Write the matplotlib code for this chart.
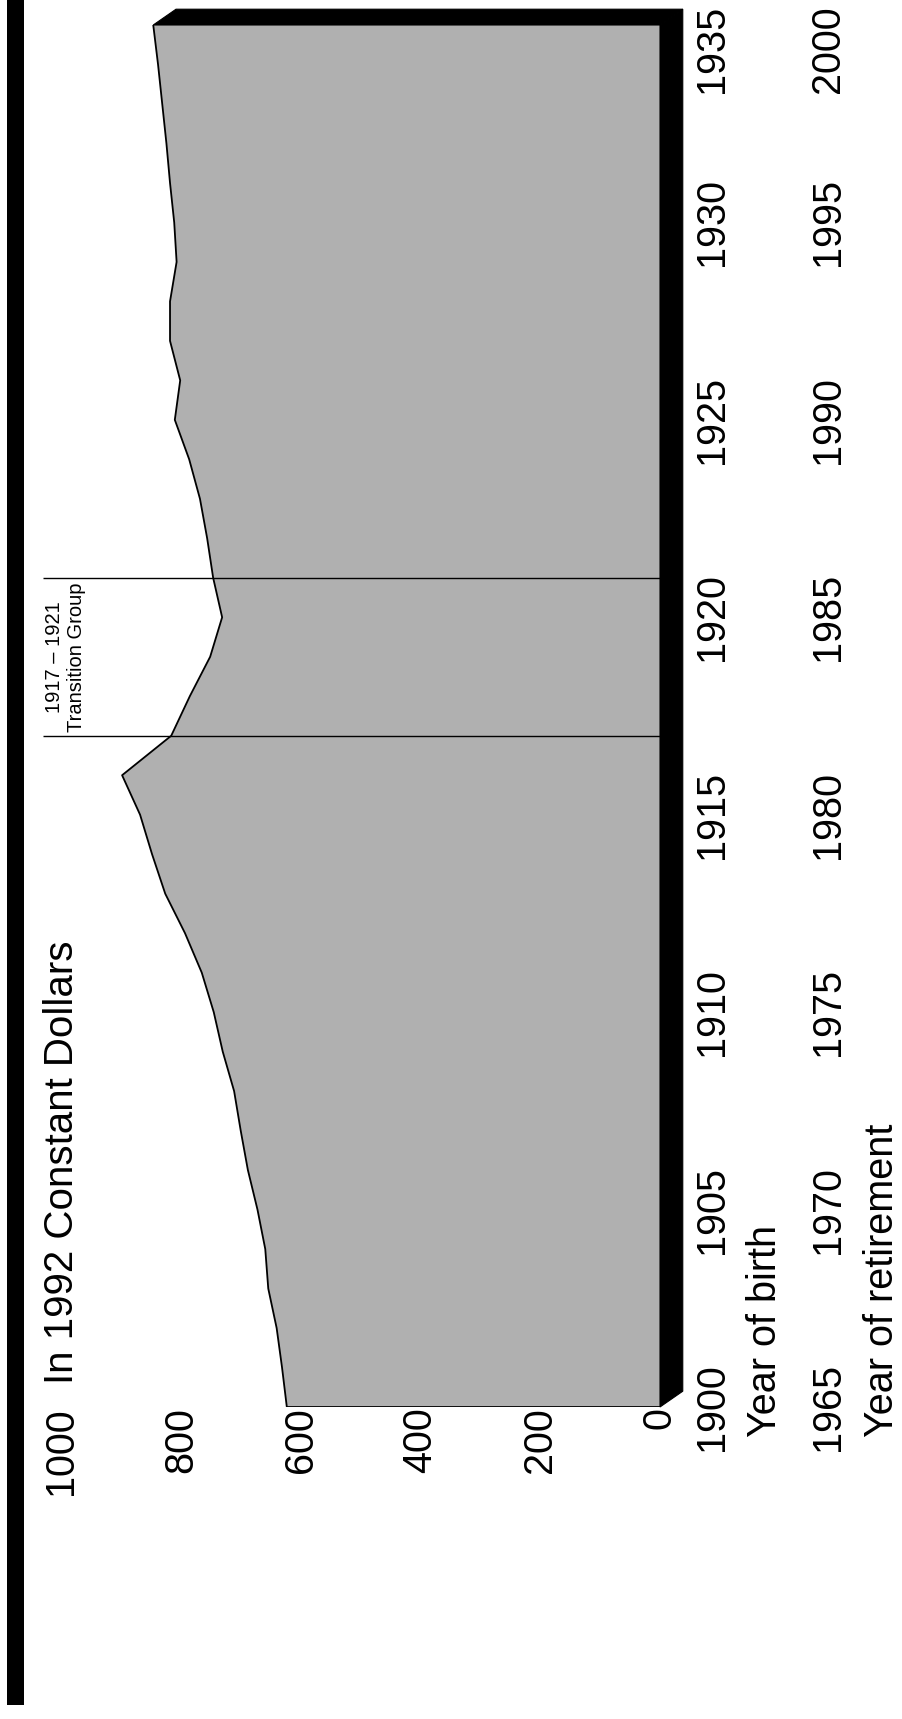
import matplotlib
matplotlib.use("Agg")
from matplotlib import pyplot as plt
from matplotlib.patches import Polygon, Rectangle

plt.rcParams['font.family'] = ['Liberation Sans', 'DejaVu Sans']

#---------------------------------Data--------------------------------
birth_year = list(range(1900, 1936))
# benefit, 1992 constant dollars
benefit = [623, 631, 640, 654, 659, 672, 688, 700, 711, 730,
           745, 765, 793, 826, 848, 868, 898, 816, 785, 751,
           731, 746, 756, 768, 786, 810, 801, 818, 818, 807,
           811, 818, 824, 831, 838, 846]
value_ticks = [0, 200, 400, 600, 800, 1000]
birth_ticks = [1900, 1905, 1910, 1915, 1920, 1925, 1930, 1935]
retire_ticks = [1965, 1970, 1975, 1980, 1985, 1990, 1995, 2000]
transition = [1917, 1921]

#---------------------------------Styles--------------------------------
W, H = 903, 1719
gray = "#b0b0b0"
big = 28.5
depth_v = 38      # 3d depth, value units
depth_y = 0.4     # 3d depth, years
bracket_left = 1030
# label nudge at the top end (years) so it stays in the page
nudge = {1935: -0.6}

fig = plt.figure(figsize=(W / 100, H / 100), dpi=100)
ax = fig.add_axes([61 / W, 312 / H, 599 / W, 1382 / H])

# the area
ax.fill_betweenx(birth_year, 0, benefit, facecolor=gray, edgecolor="none", zorder=1)
ax.plot(benefit, birth_year, color="black", lw=1.3, zorder=3)
ax.hlines(birth_year[0], 0, benefit[0], color="black", lw=1.3, zorder=3)

# black 3d faces: end cap on top and floor on the right
y0 = birth_year[0]
y1 = birth_year[-1]
top = Polygon([(benefit[-1], y1), (0, y1), (-depth_v, y1 + depth_y),
               (benefit[-1] - depth_v, y1 + depth_y)],
              closed=True, facecolor="black", edgecolor="black", lw=0.8, clip_on=False, zorder=2)
side = Polygon([(0, y0), (0, y1), (-depth_v, y1 + depth_y), (-depth_v, y0 + depth_y)],
               closed=True, facecolor="black", edgecolor="black", lw=0.8, clip_on=False, zorder=2)
ax.add_patch(top)
ax.add_patch(side)

# transition group bracket
ax.hlines(transition, 0, bracket_left, color="black", lw=1.0, clip_on=False, zorder=4)
ax.text(992, sum(transition) / 2, "1917 \u2013 1921\nTransition Group", rotation=90,
        ha="center", va="center", fontsize=14.5, linespacing=1.2, multialignment="center")

ax.set_xlim(1000, 0)
ax.set_ylim(1900, 1935)
for s in ax.spines.values():
    s.set_visible(False)
ax.set_xticks(value_ticks)
ax.set_xticklabels([str(v) for v in value_ticks])
ax.tick_params(axis="x", length=0, labelsize=big, pad=0)
plt.setp(ax.get_xticklabels(), rotation=90)
ax.set_yticks([])

# year labels, two columns on the right
tr = ax.get_yaxis_transform()
for i in range(len(birth_ticks)):
    y = birth_ticks[i] + nudge.get(birth_ticks[i], 0)
    ax.text(1.0868, y, str(birth_ticks[i]), transform=tr, rotation=90,
            ha="center", va="center", fontsize=big)
    ax.text(1.2805, y, str(retire_ticks[i]), transform=tr, rotation=90,
            ha="center", va="center", fontsize=big)
ax.text(1.1753, 1899.24, "Year of birth", transform=tr, rotation=90,
        ha="center", va="bottom", fontsize=big)
ax.text(1.3706, 1899.24, "Year of retirement", transform=tr, rotation=90,
        ha="center", va="bottom", fontsize=big)

# title next to the 1000 tick
fig.text(62 / W, (H - 1384) / H, "In 1992 Constant Dollars", rotation=90,
         ha="center", va="bottom", fontsize=29)

# black rule down the left side
fig.patches.append(Rectangle((7 / W, 14 / H), 17 / W, 1705 / H, transform=fig.transFigure,
                             facecolor="black", edgecolor="none"))

fig.savefig("out.png", dpi=100)
